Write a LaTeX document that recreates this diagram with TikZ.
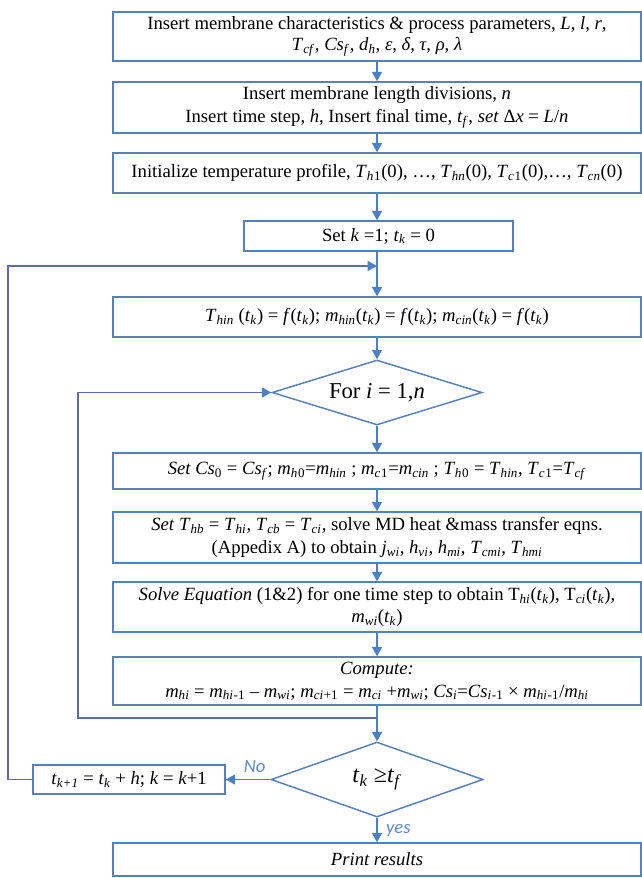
\documentclass[tikz,border=0pt]{standalone}
\usepackage{fontspec}
\setmainfont{Liberation Serif}
\newfontfamily\lblfont{Carlito}
\usetikzlibrary{shapes.geometric,arrows.meta}
\definecolor{boxc}{RGB}{84,130,190}
\definecolor{arrc}{RGB}{76,128,198}
\definecolor{loopc}{RGB}{98,104,172}
\definecolor{lblc}{RGB}{91,141,210}
\newcommand{\iv}[2]{\textit{#1}\textsubscript{\textit{#2}}}
\begin{document}
\begin{tikzpicture}[x=0.75pt,y=-0.75pt,
  box/.style={draw=boxc, line width=1.1pt, align=center, inner sep=1pt, font=\fontsize{14}{17}\selectfont},
  wide/.style={minimum width=396pt},
  dec/.style={draw=boxc, line width=1.1pt, shape=diamond, aspect=3.2, inner sep=0pt, align=center},
  flow/.style={draw=arrc, line width=1pt, -{Triangle[length=7pt,width=7.5pt]}},
  loopline/.style={draw=loopc, line width=1pt, -{Triangle[length=7pt,width=7.5pt,color=arrc]}},
  lbl/.style={font=\lblfont\itshape\fontsize{14}{16}\selectfont, text=lblc},
  ]
\useasboundingbox (0,0) rectangle (642,878);

\node[box,wide,minimum height=36.75pt,font=\fontsize{14}{15.5}\selectfont] (b1) at (377,36.5)
  {Insert membrane characteristics \& process parameters, \textit{L}, \textit{l}, \textit{r},\\
   \iv{T}{cf}, \iv{Cs}{f}, \iv{d}{h}, \textit{ε}, \textit{δ}, \textit{τ}, \textit{ρ}, \textit{λ}};
\node[box,wide,minimum height=38.25pt] (b2) at (377,107.5)
  {Insert membrane length divisions, \textit{n}\\
   Insert time step, \textit{h}, Insert final time, \iv{t}{f}, \textit{set} Δ\textit{x} = \textit{L}/\textit{n}};
\node[box,wide,minimum height=30pt] (b3) at (377,173)
  {Initialize temperature profile, \iv{T}{h}\textsubscript{1}(0), …, \iv{T}{hn}(0), \iv{T}{c}\textsubscript{1}(0),…, \iv{T}{cn}(0)};
\node[box,minimum width=201.75pt,minimum height=22.5pt] (b4) at (378.5,236)
  {Set \textit{k} =1; \iv{t}{k} = 0};
\node[box,wide,minimum height=30pt] (b5) at (377,317)
  {\iv{T}{hin} (\iv{t}{k}) = \textit{f}(\iv{t}{k}); \iv{m}{hin}(\iv{t}{k}) = \textit{f}(\iv{t}{k}); \iv{m}{cin}(\iv{t}{k}) = \textit{f}(\iv{t}{k})};
\node[dec,minimum width=157.5pt,minimum height=48.75pt,font=\fontsize{17}{20}\selectfont] (d1) at (377,392.5)
  {For \textit{i} = 1,\textit{n}};
\node[box,wide,minimum height=27pt] (b6) at (377,471)
  {\textit{Set Cs}\textsubscript{0} = \iv{Cs}{f}; \iv{m}{h}\textsubscript{0}=\iv{m}{hin} ; \iv{m}{c}\textsubscript{1}=\iv{m}{cin} ; \iv{T}{h}\textsubscript{0} = \iv{T}{hin}, \iv{T}{c}\textsubscript{1}=\iv{T}{cf}};
\node[box,wide,minimum height=38.25pt] (b7) at (377,537.5)
  {\textit{Set} \iv{T}{hb} = \iv{T}{hi}, \iv{T}{cb} = \iv{T}{ci}, solve MD heat \&mass transfer eqns.\\
   (Appedix A) to obtain \iv{j}{wi}, \iv{h}{vi}, \iv{h}{mi}, \iv{T}{cmi}, \iv{T}{hmi}};
\node[box,wide,minimum height=37.5pt] (b8) at (377,607)
  {\textit{Solve Equation} (1\&2) for one time step to obtain T\textsubscript{\textit{hi}}(\iv{t}{k}), T\textsubscript{\textit{ci}}(\iv{t}{k}),\\
   \iv{m}{wi}(\iv{t}{k})};
\node[box,wide,minimum height=36pt] (b9) at (377,681)
  {\textit{Compute:}\\
   \iv{m}{hi} = \iv{m}{hi}\textsubscript{-1} – \iv{m}{wi}; \iv{m}{ci}\textsubscript{+1} = \iv{m}{ci} +\iv{m}{wi}; \iv{Cs}{i}=\iv{Cs}{i}\textsubscript{-1} × \iv{m}{hi}\textsubscript{-1}/\iv{m}{hi}};
\node[dec,minimum width=159pt,minimum height=56.25pt,font=\fontsize{18}{20}\selectfont] (d2) at (377,779.5)
  {\iv{t}{k} ≥\iv{t}{f}};
\node[box,minimum width=144pt,minimum height=21.75pt] (bk) at (129,779.5)
  {\iv{t}{k+1} = \iv{t}{k} + \textit{h}; \textit{k} = \textit{k}+1};
\node[box,wide,minimum height=24.75pt] (b10) at (377,859.5)
  {\textit{Print results}};

\coordinate (j1) at (377,266);
\coordinate (j2) at (377,718);
\coordinate (c1) at (8,779.5);
\coordinate (c2) at (8,266);
\coordinate (c3) at (78,718);
\coordinate (c4) at (78,392.5);

\draw[flow] (b1) -- (b2);
\draw[flow] (b2) -- (b3);
\draw[flow] (b3) -- (b4.north -| b3.south);
\draw[flow] (b4.south -| b3.south) -- (b5);
\draw[flow] (b5) -- (d1);
\draw[flow] (d1) -- (b6);
\draw[flow] (b6) -- (b7);
\draw[flow] (b7) -- (b8);
\draw[flow] (b8) -- (b9);
\draw[flow] (b9) -- (d2);
\draw[flow] (d2) -- node[lbl,pos=0.35,above=1pt]{No} (bk);
\draw[flow] (d2) -- node[lbl,pos=0.5,right=3pt]{yes} (b10);
\draw[loopline] (bk.west) -- (c1) -- (c2) -- (j1);
\draw[loopline] (j2) -- (c3) -- (c4) -- (d1.west);
\end{tikzpicture}
\end{document}
